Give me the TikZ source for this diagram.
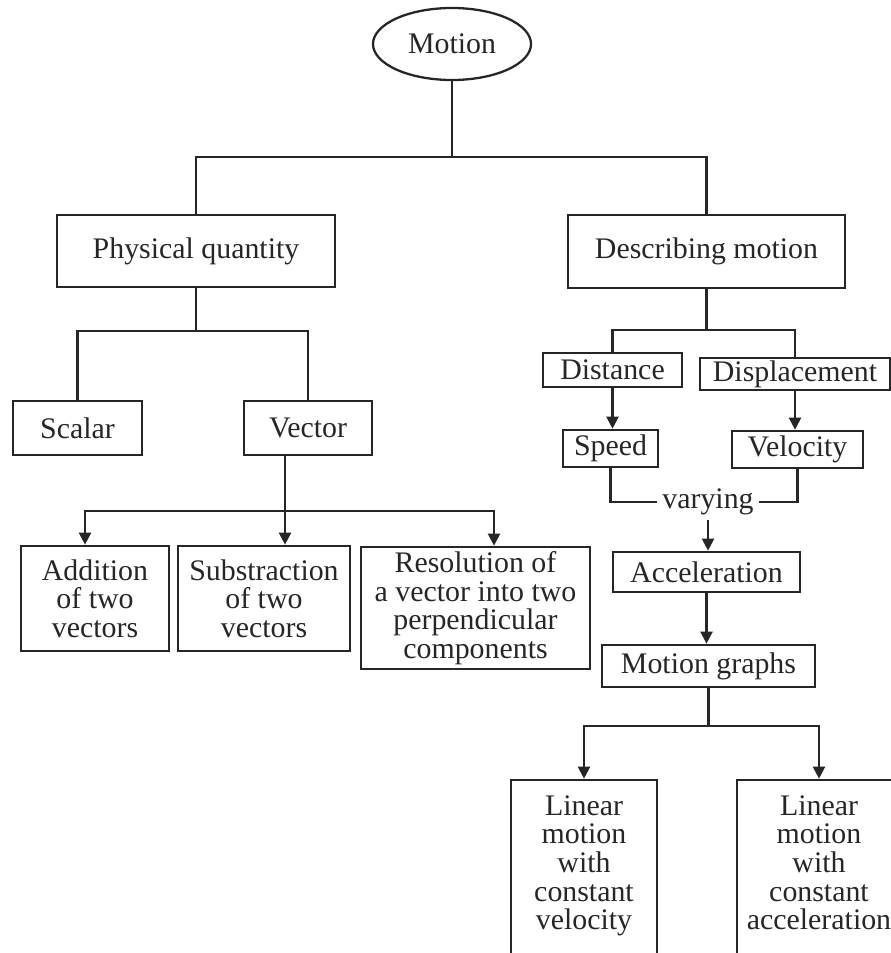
\documentclass[tikz,border=0pt]{standalone}
\usepackage{fontspec}
\setmainfont{Liberation Serif}
\usetikzlibrary{arrows.meta,positioning,shapes.geometric}

\begin{document}
\begin{tikzpicture}[
    x=0.75pt, y=-0.75pt,
    >={Triangle[length=9pt,width=9pt]},
    line width=1.7pt, color=black!85,
    txt/.style={font=\fontsize{22.4}{21.5}\selectfont},
    box/.style={txt, draw, line width=2pt, align=center, inner sep=0pt},
    oval/.style={txt, draw, ellipse, line width=1.7pt, inner sep=0pt}
  ]
    \useasboundingbox (0,0) rectangle (891,953);
    \clip (0,0) rectangle (891,953);

    \node[oval, minimum width=118.5pt, minimum height=54pt] (motion) at (452,44) {Motion};
    \node[box, minimum width=208.5pt, minimum height=54pt] (phys) at (196,251) {Physical quantity};
    \node[box, minimum width=207.75pt, minimum height=54.75pt] (desc) at (706.5,251.5) {Describing motion};

    % physical quantity branch
    \node[box, minimum width=96.75pt, minimum height=40.5pt] (scalar) at (77.5,428) {Scalar};
    \node[box, minimum width=96pt, minimum height=40.5pt] (vector) at (308,428) {Vector};
    \node[box, minimum width=111pt, minimum height=78.75pt] (addition) at (95,598.5) {Addition\\of two\\vectors};
    \node[box, minimum width=129pt, minimum height=78.75pt] (subtr) at (264,598.5) {Substraction\\of two\\vectors};
    \node[box, minimum width=171.75pt, minimum height=91.5pt] (resol) at (475.5,608) {Resolution of\\a vector into two\\perpendicular\\components};

    % describing motion branch
    \node[box, minimum width=104.25pt, minimum height=25.5pt] (distance) at (612.5,370) {Distance};
    \node[box, minimum width=142.5pt, minimum height=24pt] (displ) at (795,374) {Displacement};
    \node[box, minimum width=71.25pt, minimum height=27.75pt] (speed) at (610.5,448.5) {Speed};
    \node[box, minimum width=98.25pt, minimum height=27.75pt] (velocity) at (797.5,449.5) {Velocity};
    \node[txt, inner sep=3pt] (varying) at (708,502) {varying};
    \node[box, minimum width=140.25pt, minimum height=30pt] (accel) at (706.5,572) {Acceleration};
    \node[box, minimum width=159.75pt, minimum height=31.5pt] (graphs) at (708.5,666) {Motion graphs};
    \node[box, minimum width=109.5pt, minimum height=130.5pt] (linvel) at (584,867) {Linear\\motion\\with\\constant\\velocity\strut};
    \node[box, minimum width=123pt, minimum height=130.5pt] (linacc) at (819,867) {Linear\\motion\\with\\constant\\acceleration\strut};

    \coordinate (mjoin) at (452,157);
    \coordinate (pjoin) at (196,331);
    \coordinate (vjoin) at (285,511);
    \coordinate (djoin) at (706.5,330);
    \coordinate (gjoin) at (708.5,726);

    \draw (motion) -- (mjoin);
    \draw (phys.north) |- (mjoin) -| (desc.north);

    \draw (phys) -- (pjoin);
    \draw (scalar.north) |- (pjoin) -| (vector.north);
    \draw (vector.south -| vjoin) -- (vjoin);
    \draw[->] (vjoin) -| (addition.north -| 85,0);
    \draw[->] (vjoin) -- (subtr.north -| vjoin);
    \draw[->] (vjoin) -| (resol.north -| 494,0);

    \draw (desc) -- (djoin);
    \draw (distance.north) |- (djoin) -| (displ.north);
    \draw[->] (distance.south) -- (distance.south |- speed.north);
    \draw[->] (displ.south) -- (displ.south |- velocity.north);
    \draw (speed.south) |- (varying.west);
    \draw (velocity.south) |- (varying.east);
    \draw[->] (varying.south) -- (varying.south |- accel.north);
    \draw[->] (accel.south) -- (accel.south |- graphs.north);
    \draw (graphs) -- (gjoin);
    \draw[->] (gjoin) -| (linvel.north);
    \draw[->] (gjoin) -| (linacc.north);
  \end{tikzpicture}
\end{document}
